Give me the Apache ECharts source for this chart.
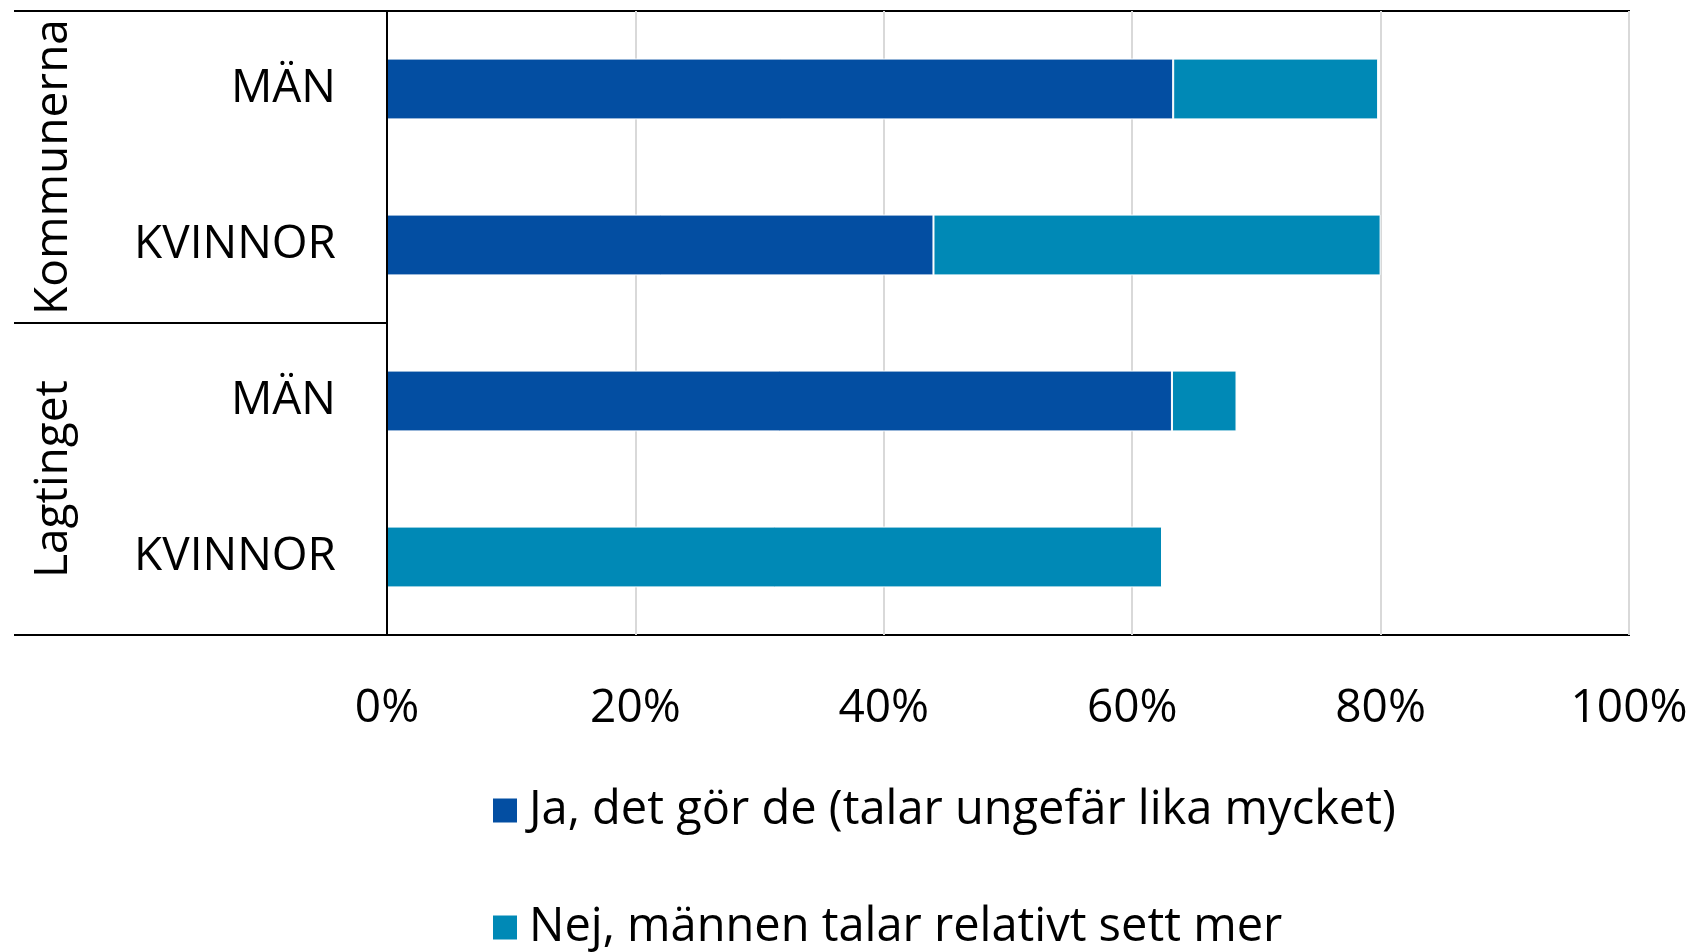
<!DOCTYPE html>
<html>
<head>
<meta charset="utf-8">
<script src="https://cdn.jsdelivr.net/npm/echarts@6/dist/echarts.min.js"></script>
<style>
  html, body { margin: 0; padding: 0; background: #fff; }
  #chart { width: 1694px; height: 952px; }
</style>
</head>
<body>
<div id="chart"></div>
<script>
// rader uppifrån och ned
const categories = ['MÄN', 'KVINNOR', 'MÄN', 'KVINNOR'];
const groups = ['Kommunerna', 'Lagtinget'];
const seriesNames = ['Ja, det gör de (talar ungefär lika mycket)', 'Nej, männen talar relativt sett mer'];
const jaValues = [63.3, 44.0, 63.2, 0];
const nejValues = [16.5, 36.0, 5.2, 62.4];
const xTicks = [0, 20, 40, 60, 80, 100];

const colors = ['#034EA2', '#0089B6'];
const font = 'Open Sans';
const fontSize = 46;

const chart = echarts.init(document.getElementById('chart'));

const option = {
  backgroundColor: '#fff',
  animation: false,
  textStyle: { fontFamily: font, color: '#000' },
  grid: {
    left: 387,
    right: 65,
    top: 11,
    bottom: 317,
    show: true,
    borderColor: '#000',
    borderWidth: 2,
    backgroundColor: 'transparent'
  },
  xAxis: {
    type: 'value',
    min: xTicks[0],
    max: xTicks[xTicks.length - 1],
    interval: 20,
    axisLine: { show: false },
    axisTick: { show: false },
    axisLabel: {
      formatter: '{value}%',
      fontFamily: font,
      fontSize: fontSize,
      lineHeight: fontSize,
      color: '#000',
      margin: 51
    },
    splitLine: { lineStyle: { color: '#d9d9d9', width: 2 } }
  },
  yAxis: [
    {
      type: 'category',
      position: 'left',
      inverse: true,
      data: categories,
      z: 5,
      axisLine: { lineStyle: { color: '#000', width: 2 } },
      axisTick: { show: false },
      axisLabel: {
        interval: 0,
        fontFamily: font,
        fontSize: fontSize,
        color: '#000',
        margin: 51
      }
    },
    {
      // grupp-etiketter och avdelare till vänster
      type: 'category',
      position: 'left',
      inverse: true,
      data: groups,
      z: 5,
      axisLine: { show: false },
      axisTick: { show: true, interval: 0, length: 373, lineStyle: { color: '#000', width: 2 } },
      axisLabel: {
        interval: 0,
        rotate: 90,
        fontFamily: font,
        fontSize: fontSize,
        lineHeight: fontSize,
        color: '#000',
        margin: 310
      },
      splitLine: { show: false }
    }
  ],
  legend: {
    orient: 'vertical',
    left: 491,
    top: 787,
    height: 200,
    padding: 0,
    icon: 'rect',
    itemWidth: 26,
    itemHeight: 26,
    itemGap: 70,
    data: seriesNames,
    textStyle: {
      fontFamily: font,
      fontSize: 47,
      lineHeight: 47,
      color: '#000',
      padding: [0, 0, 0, 6]
    }
  },
  series: [
    {
      name: seriesNames[0],
      type: 'bar',
      stack: 'total',
      yAxisIndex: 0,
      barCategoryGap: '61%',
      itemStyle: { color: colors[0], borderColor: '#fff', borderWidth: 1 },
      data: jaValues
    },
    {
      name: seriesNames[1],
      type: 'bar',
      stack: 'total',
      yAxisIndex: 0,
      barCategoryGap: '61%',
      itemStyle: { color: colors[1], borderColor: '#fff', borderWidth: 1 },
      data: nejValues
    }
  ]
};

chart.setOption(option);
</script>
</body>
</html>
